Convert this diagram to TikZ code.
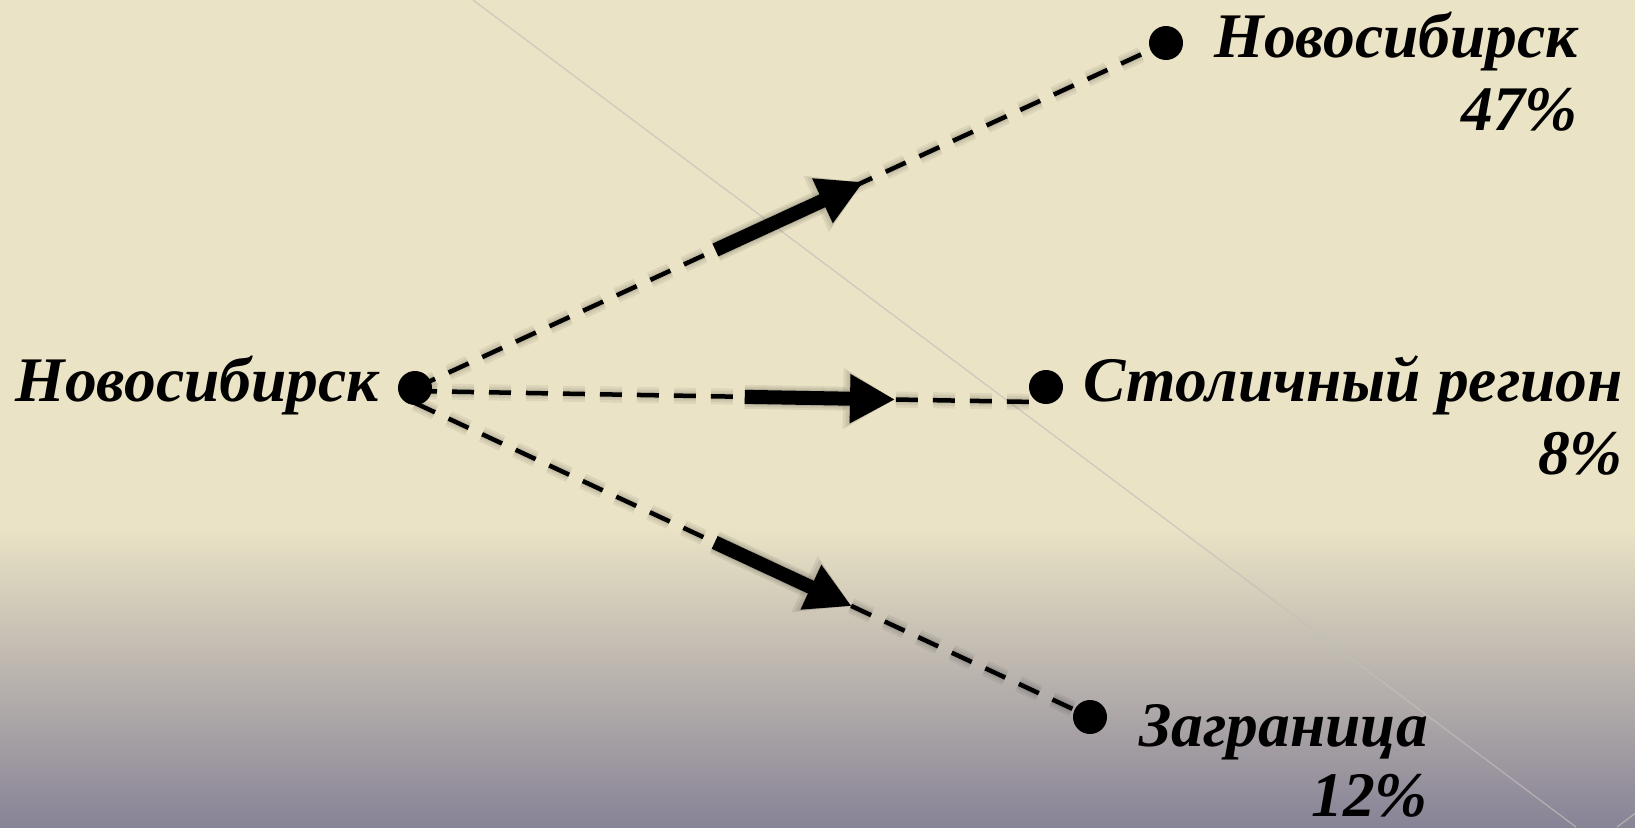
\documentclass[tikz,border=0pt]{standalone}
\usepackage{fontspec}
\setmainfont{Liberation Serif}
\usetikzlibrary{arrows.meta,calc}
\definecolor{bgtop}{RGB}{234,227,197}
\definecolor{bgbot}{RGB}{136,131,150}
\definecolor{diagline}{RGB}{196,191,186}
\pgfdeclarelayer{back}
\pgfdeclarelayer{lines}
\pgfsetlayers{back,lines,main}
\begin{document}
\begin{tikzpicture}[x=1pt,y=-1pt,
  dot/.style={circle,fill=black,minimum size=34pt,inner sep=0pt},
  lab/.style={font=\fontsize{63.5}{70}\selectfont\bfseries\itshape,inner sep=0pt},
  link/.style={line width=4.5pt,dash pattern=on 22pt off 15pt},
  linkshadow/.style={line width=#1,dash pattern=on 22pt off 15pt,black,opacity=0.06,yshift=4pt},
  bigarrow/.style={line width=14pt,-{Triangle[length=45pt,width=46pt]}},
  arrowshadow/.style={black,opacity=0.07,yshift=4pt},
]
\useasboundingbox (0,0) rectangle (1635,827);

% nodes
\node[dot] (src) at (415,388) {};
\node[dot] (n1) at (1166,43) {};
\node[dot] (n2) at (1046,387) {};
\node[dot] (n3) at (1090,717) {};
\coordinate (src2) at (415,391);
\coordinate (src3) at (415,403);
\coordinate (n2end) at (1036,402);

% labels
\node[lab,anchor=base east] (t0) at (379,401) {Новосибирск};
\node[lab,anchor=base east] (t1) at (1578,57) {Новосибирск};
\node[lab,anchor=base east] (p1) at (1578,130) {47\%};
\node[lab,anchor=base east] (t2) at (1623,401) {Столичный регион};
\node[lab,anchor=base east] (p2) at (1623,474) {8\%};
\node[lab,anchor=base east] (t3) at (1428,746) {Заграница};
\node[lab,anchor=base east] (p3) at (1428,816) {12\%};

\begin{pgfonlayer}{back}
  \fill[bgtop] (0,0) rectangle (1635,528);
  \shade[top color=bgtop,bottom color=bgbot] (0,527) rectangle (1635,827);
  \draw[diagline,line width=1.3pt,opacity=0.7] (473,0) -- (1576,827);
  \draw[diagline,line width=1.3pt,opacity=0.7] (1617,827) -- (1645,806);
\end{pgfonlayer}

\begin{pgfonlayer}{lines}
  % shadows
  \foreach \w in {16pt,11pt,7pt}{
    \draw[linkshadow=\w] (src.center) -- (n1.center);
    \draw[linkshadow=\w] (src2) -- (n2end);
    \draw[linkshadow=\w] (src3) -- (n3.center);
  }
  \foreach \lw/\al/\aw in {24pt/52pt/58pt,20pt/49pt/53pt,16pt/46pt/48pt}{
    \draw[arrowshadow,line width=\lw,-{Triangle[length=\al,width=\aw]}] ($(src)!0.40!(n1)$) -- ($(src)!0.597!(n1)$);
    \draw[arrowshadow,line width=\lw,-{Triangle[length=\al,width=\aw]}] ($(src2)!0.531!(n2end)$) -- ($(src2)!0.773!(n2end)$);
    \draw[arrowshadow,line width=\lw,-{Triangle[length=\al,width=\aw]}] ($(src3)!0.444!(n3)$) -- ($(src3)!0.647!(n3)$);
  }
  % dashed links
  \draw[link] (src.center) -- (n1.center);
  \draw[link] (src2) -- (n2end);
  \draw[link] (src3) -- (n3.center);
  % thick arrows
  \draw[bigarrow] ($(src)!0.40!(n1)$) -- ($(src)!0.597!(n1)$);
  \draw[bigarrow] ($(src2)!0.531!(n2end)$) -- ($(src2)!0.773!(n2end)$);
  \draw[bigarrow] ($(src3)!0.444!(n3)$) -- ($(src3)!0.647!(n3)$);
\end{pgfonlayer}
\end{tikzpicture}
\end{document}
